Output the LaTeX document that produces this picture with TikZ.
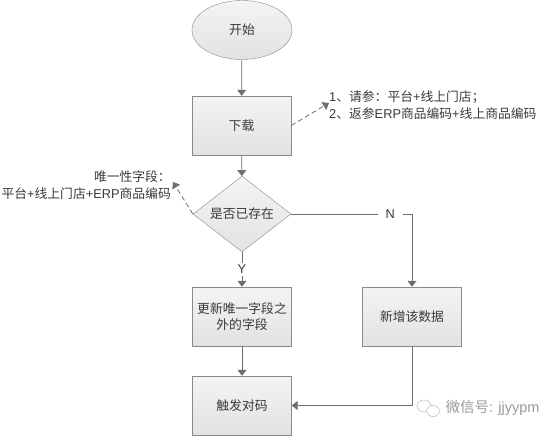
\documentclass[tikz,border=0pt]{standalone}
\usepackage{fontspec}
\setmainfont{Noto Sans CJK SC}
\newfontfamily\latinfont{Liberation Sans}
\newcommand\lat[1]{{\latinfont #1}}
\usetikzlibrary{shapes.geometric,arrows.meta}

\definecolor{edgegray}{HTML}{6E6E6E}
\definecolor{boxline}{HTML}{8A8A8A}
\definecolor{filltop}{HTML}{F4F4F4}
\definecolor{fillbot}{HTML}{E2E2E2}
\definecolor{txtgray}{HTML}{3A3A3A}
\definecolor{markgray}{HTML}{9A9A9A}

\tikzset{
  every node/.style={font=\fontsize{12.8}{16.5}\selectfont, text=txtgray},
  box/.style={draw=boxline, top color=filltop, bottom color=fillbot,
    minimum width=99pt, minimum height=59pt, inner sep=2pt, align=center},
  startnode/.style={box, ellipse, minimum width=100pt, minimum height=59pt},
  decision/.style={box, diamond, minimum width=98pt, minimum height=58pt, inner sep=0pt},
  note/.style={inner sep=0pt},
  lbl/.style={fill=white, inner xsep=8pt, inner ysep=2pt},
  flow/.style={draw=edgegray, line width=0.8pt, -{Triangle[width=9pt,length=6pt]}},
  dashflow/.style={flow, dash pattern=on 5pt off 3pt},
}

\begin{document}
\begin{tikzpicture}[x=1pt,y=-1pt]
    \useasboundingbox (0,0) rectangle (549,436);
    \node[startnode] (start) at (242,30) {开始};
    \node[box] (load) at (241.5,125.5) {下载};
    \node[decision] (exist) at (242,214) {是否已存在};
    \node[box] (update) at (242,316.5) {更新唯一字段之\\外的字段};
    \node[box] (newdata) at (412,316.5) {新增该数据};
    \node[box] (match) at (242,405.5) {触发对码};
    \node[note, anchor=west, align=left] (param) at (329,105)
      {\lat{1}、请参：平台\lat{+}线上门店；\\\lat{2}、返参\lat{ERP}商品编码\lat{+}线上商品编码};
    \node[note, anchor=east, align=right] (uniq) at (171,185)
      {唯一性字段：\\平台\lat{+}线上门店\lat{+ERP}商品编码};
    \draw[flow] (start) -- (load);
    \draw[flow] (load) -- (exist);
    \draw[dashflow] (load.east) -- ([yshift=2pt]param.west);
    \draw[dashflow] (exist.west) -- ([xshift=2pt,yshift=3pt]uniq.east);
    \draw[flow] (exist.south) -- node[lbl] {\lat{Y}} (update.north);
    \draw[flow] (exist.east) -- node[lbl, pos=0.82] {\lat{N}} (exist.east -| newdata.north) -- (newdata.north);
    \draw[flow] (update) -- (match);
    \draw[flow] (newdata.south) |- (match.east);
    % watermark
    \draw[markgray!60, line width=0.6pt] (424,406) ellipse (7pt and 6pt);
    \draw[markgray!60, line width=0.6pt, fill=white] (433,411) ellipse (6.5pt and 5.5pt);
    \node[anchor=west, text=markgray, font=\fontsize{14.5}{17}\selectfont] (wmark) at (442,408) {微信号\lat{: jjyypm}};
\end{tikzpicture}
\end{document}
